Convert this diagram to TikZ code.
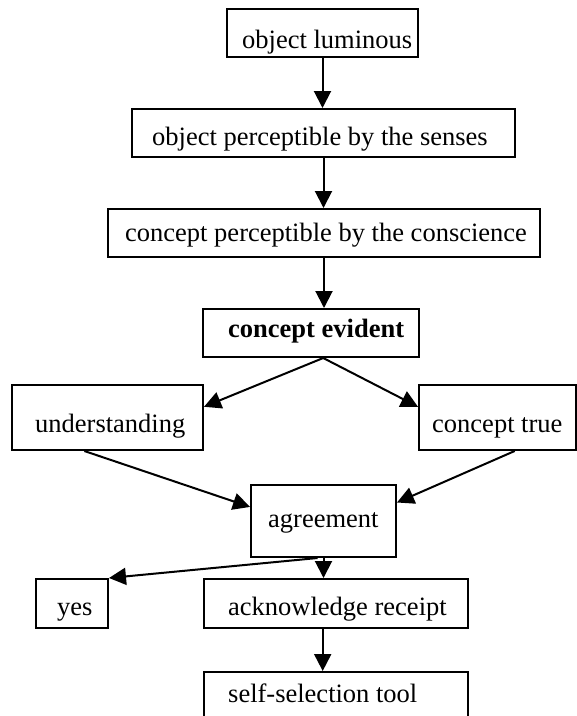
\documentclass[tikz,border=0pt]{standalone}
\usepackage{fontspec}
\setmainfont{Liberation Serif}
\usetikzlibrary{arrows.meta,calc}
\begin{document}
\begin{tikzpicture}[x=1pt,y=-1pt,
  box/.style={draw, line width=2pt, inner sep=0pt},
  txt/.style={font=\fontsize{26.5}{32}\selectfont, anchor=base west, inner sep=0pt},
  arr/.style={line width=2pt, -{Triangle[length=17pt,width=17pt]}},
  ln/.style={line width=2pt}]
\clip (0,0) rectangle (577,716);
\fill[white] (0,0) rectangle (577,716);
% boxes
\node[box, minimum width=191pt, minimum height=48pt] (b1) at (322.5,33) {};
\node[box, minimum width=383pt, minimum height=48pt] (b2) at (323.5,133) {};
\node[box, minimum width=432pt, minimum height=48pt] (b3) at (324,233) {};
\node[box, minimum width=216pt, minimum height=48pt] (b4) at (311,333) {};
\node[box, minimum width=191pt, minimum height=65pt] (und) at (107.5,417.5) {};
\node[box, minimum width=156.5pt, minimum height=65pt] (ctrue) at (497.25,417.5) {};
\node[box, minimum width=145pt, minimum height=72pt] (agr) at (323.5,521) {};
\node[box, minimum width=72pt, minimum height=49pt] (yes) at (72,603.5) {};
\node[box, minimum width=264pt, minimum height=49pt] (ack) at (336,603.5) {};
\node[box, minimum width=264pt, minimum height=70pt] (sel) at (336,707) {};
% texts
\node[txt] (t1) at (242,48) {object luminous};
\node[txt] (t2) at (152,145) {object perceptible by the senses};
\node[txt] (t3) at (125,241.5) {concept perceptible by the conscience};
\node[txt] (t4) at (228,337) {\bfseries concept evident};
\node[txt] (t5) at (35,432) {understanding};
\node[txt] (t6) at (432,432) {concept true};
\node[txt] (t7) at (268,527) {agreement};
\node[txt] (t8) at (57,615) {yes};
\node[txt] (t9) at (228,615) {acknowledge receipt};
\node[txt] (t10) at (228,702) {self-selection tool};
% connectors
\draw[arr] (b1.south) -- (b1.south |- b2.north);
\draw[arr] (b2.south) -- (b2.south |- b3.north);
\draw[arr] (b3.south) -- (b3.south |- b4.north);
\coordinate (b4s) at ($(b4.south west)!0.556!(b4.south east)$);
\draw[arr] (b4s) -- ($(und.north east)!0.34!(und.south east)$);
\draw[arr] (b4s) -- ($(ctrue.north west)!0.34!(ctrue.south west)$);
\draw[arr] ($(und.south west)!0.38!(und.south east)$) -- ($(agr.north west)!0.31!(agr.south west)$);
\draw[arr] ($(ctrue.south west)!0.61!(ctrue.south east)$) -- ($(agr.north east)!0.25!(agr.south east)$);
\draw[arr] (agr.south) -- (agr.south |- ack.north);
\draw[arr] ($(agr.south west)!0.46!(agr.south east)$) -- (yes.north east);
\coordinate (acks) at ($(ack.south west)!0.45!(ack.south east)$);
\draw[arr] (acks) -- (acks |- sel.north);
\end{tikzpicture}
\end{document}
